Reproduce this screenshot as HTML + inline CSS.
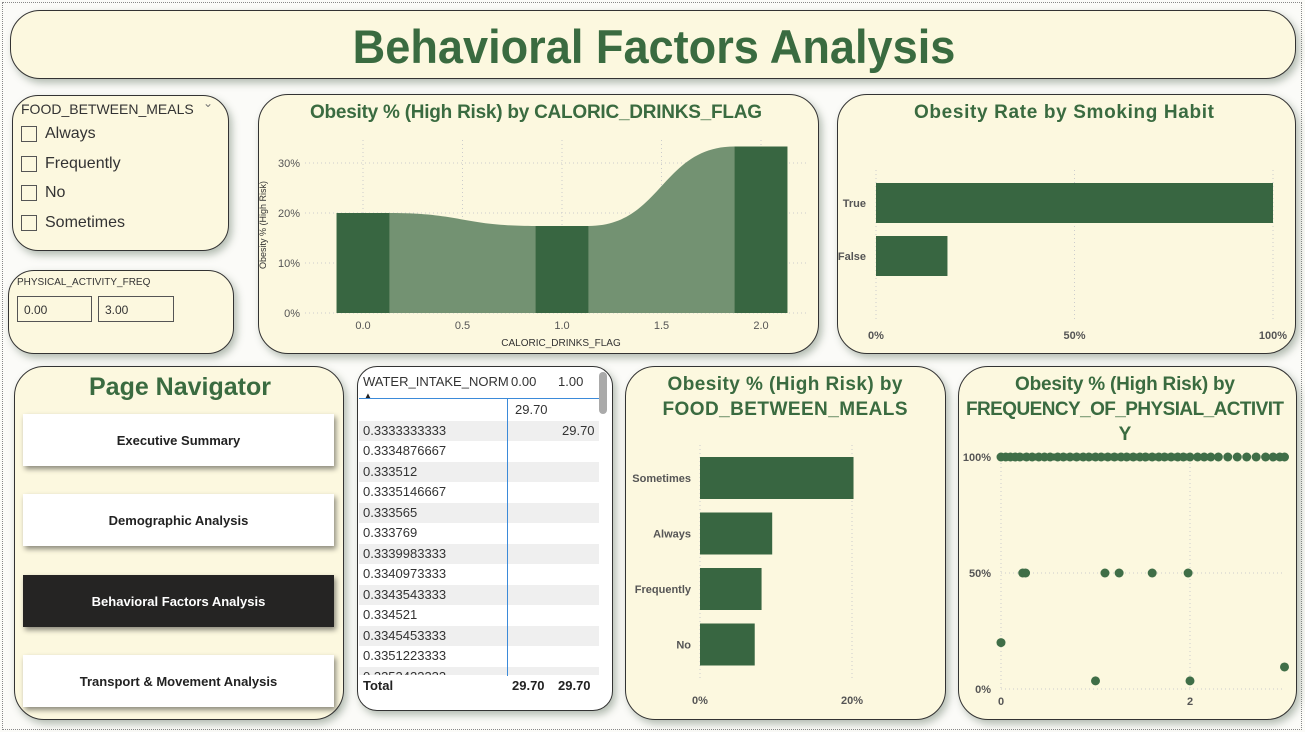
<!DOCTYPE html>
<html><head><meta charset="utf-8">
<style>
*{box-sizing:border-box;margin:0;padding:0}
body{width:1305px;height:732px;background:#fbfbf8;font-family:"Liberation Sans",sans-serif;position:relative;overflow:hidden}
.frame{position:absolute;left:2px;top:2px;width:1300px;height:728px;border:1px dotted #888}
.card{position:absolute;background:#fcf8df;border:1px solid #333;border-radius:30px;box-shadow:3px 4px 8px rgba(90,110,90,.45)}
.t{position:absolute;color:#3a6b40;font-weight:bold;white-space:nowrap}
.nav{position:absolute;left:23px;width:311px;height:52px;background:#fff;box-shadow:2px 3px 5px rgba(0,0,0,.45);font-size:13px;font-weight:bold;display:flex;align-items:center;justify-content:center;color:#222}
.cb{position:absolute;left:20px;width:16px;height:16px;border:1px solid #555}
.lbl{position:absolute;left:44px;font-size:16px;color:#333}
svg text{font-family:"Liberation Sans",sans-serif}
</style></head><body>
<div class="frame"></div>

<div class="card" style="left:10px;top:10px;width:1286px;height:69px">
<div class="t" style="left:0;width:1286px;text-align:center;top:8px;font-size:47px;transform:scaleX(.96)">Behavioral Factors Analysis</div></div>

<div class="card" style="left:12px;top:95px;width:217px;height:156px;border-radius:26px">
<div style="position:absolute;left:8px;top:5px;font-size:14px;color:#333">FOOD_BETWEEN_MEALS</div>
<div style="position:absolute;left:190px;top:0px;font-size:12px;color:#777">&#8964;</div>
<div class="cb" style="top:30px;left:8px"></div><div class="lbl" style="top:29px;left:32px">Always</div>
<div class="cb" style="top:60px;left:8px"></div><div class="lbl" style="top:59px;left:32px">Frequently</div>
<div class="cb" style="top:89px;left:8px"></div><div class="lbl" style="top:88px;left:32px">No</div>
<div class="cb" style="top:119px;left:8px"></div><div class="lbl" style="top:118px;left:32px">Sometimes</div>
</div>

<div class="card" style="left:8px;top:270px;width:226px;height:84px;border-radius:26px">
<div style="position:absolute;left:8px;top:6px;font-size:10px;color:#333">PHYSICAL_ACTIVITY_FREQ</div>
<div style="position:absolute;left:8px;top:25px;width:75px;height:26px;border:1px solid #555;font-size:12px;padding:6px;color:#333">0.00</div>
<div style="position:absolute;left:89px;top:25px;width:76px;height:26px;border:1px solid #555;font-size:12px;padding:6px;color:#333">3.00</div>
</div>

<div class="card" style="left:258px;top:94px;width:561px;height:260px"></div>
<svg style="position:absolute;left:0;top:0" width="1305" height="732" id="c1svg"></svg>

<div class="card" style="left:837px;top:94px;width:459px;height:260px"></div>
<div class="card" style="left:14px;top:366px;width:330px;height:354px">
<div class="t" style="left:0;width:330px;text-align:center;top:6px;font-size:25px">Page Navigator</div></div>
<div class="nav" style="top:414px">Executive Summary</div>
<div class="nav" style="top:494px">Demographic Analysis</div>
<div class="nav" style="top:575px;background:#252423;color:#fff">Behavioral Factors Analysis</div>
<div class="nav" style="top:655px">Transport &amp; Movement Analysis</div>

<div class="card" style="left:357px;top:366px;width:256px;height:345px;border-radius:20px;background:#fff"></div>
<div id="tbl"></div>

<div class="card" style="left:625px;top:366px;width:321px;height:354px"></div>
<div class="card" style="left:958px;top:366px;width:339px;height:354px"></div>
<svg style="position:absolute;left:0;top:0" width="1305" height="732" id="csvg"></svg>

<script>
// Chart 1 data
const c1Cats=[0.0,1.0,2.0];
const c1Vals=[20.0,17.4,33.3];
const c1XTicks=[0.0,0.5,1.0,1.5,2.0];
const c1YTicks=[0,10,20,30];
// Chart 2 data
const c2Cats=["True","False"];
const c2Vals=[100,18];
const c2XTicks=[0,50,100];
// Chart 3 data
const c3Cats=["Sometimes","Always","Frequently","No"];
const c3Vals=[20.2,9.5,8.1,7.2];
const c3XTicks=[0,20];
// Chart 4 data
const c4X=[0,0.05,0.1,0.15,0.2,0.27,0.33,0.4,0.46,0.52,0.6,0.66,0.73,0.8,0.87,0.93,1,1.06,1.13,1.2,1.27,1.33,1.4,1.47,1.53,1.6,1.67,1.73,1.8,1.87,1.93,2,2.08,2.15,2.22,2.3,2.4,2.5,2.6,2.7,2.8,2.88,2.95,3,0.23,0.26,1.1,1.25,1.6,1.98,0,1.0,2.0,3.0];
const c4Y=[100,100,100,100,100,100,100,100,100,100,100,100,100,100,100,100,100,100,100,100,100,100,100,100,100,100,100,100,100,100,100,100,100,100,100,100,100,100,100,100,100,100,100,100,50,50,50,50,50,50,20,3.5,3.5,9.5];
const c4XTicks=[0,2];
const c4YTicks=[0,50,100];
// Table
const tRows=["","0.3333333333","0.3334876667","0.333512","0.3335146667","0.333565","0.333769","0.3339983333","0.3340973333","0.3343543333","0.334521","0.3345453333","0.3351223333","0.3352423333"];
const tV0=["29.70","","","","","","","","","","","","",""];
const tV1=["","29.70","","","","","","","","","","","",""];

const NS="http://www.w3.org/2000/svg";
function mk(svg,tag,at,txt){const e=document.createElementNS(NS,tag);for(const k in at)e.setAttribute(k,at[k]);if(txt!==undefined)e.textContent=txt;svg.appendChild(e);return e;}
const DK="#386641",LT="#739272",TG="#3a6b40";

// ---- Chart 1
const s1=document.getElementById('c1svg');
const x1=v=>363+v*199, y1=v=>313-v*5;
let e;
e=mk(s1,'text',{x:536,y:118,'text-anchor':'middle','font-size':19,'font-weight':'bold',fill:TG,textLength:452},'Obesity % (High Risk) by CALORIC_DRINKS_FLAG');

c1YTicks.forEach(t=>{mk(s1,'line',{x1:305,x2:808,y1:y1(t),y2:y1(t),stroke:'#ccc','stroke-dasharray':'1 3'});
 e=mk(s1,'text',{x:300,y:y1(t)+4,'text-anchor':'end','font-size':11,fill:'#555'},t+'%');});
c1XTicks.forEach(t=>{mk(s1,'line',{x1:x1(t),x2:x1(t),y1:140,y2:313,stroke:'#ccc','stroke-dasharray':'1 3'});
 e=mk(s1,'text',{x:x1(t),y:329,'text-anchor':'middle','font-size':11,fill:'#555'},t.toFixed(1));});
const bw=0.133;
for(let i=0;i<c1Cats.length-1;i++){
 const xa=x1(c1Cats[i]+bw),xb=x1(c1Cats[i+1]-bw),ya=y1(c1Vals[i]),yb=y1(c1Vals[i+1]),m=(xa+xb)/2;
 e=mk(s1,'path',{d:`M${xa},${y1(0)} L${xa},${ya} C${m},${ya} ${m},${yb} ${xb},${yb} L${xb},${y1(0)} Z`,fill:LT});
 
}
c1Cats.forEach((c,i)=>{e=mk(s1,'rect',{x:x1(c-bw),y:y1(c1Vals[i]),width:x1(c+bw)-x1(c-bw),height:y1(0)-y1(c1Vals[i]),fill:DK});
 });
e=mk(s1,'text',{x:561,y:346,'text-anchor':'middle','font-size':10,fill:'#333'},'CALORIC_DRINKS_FLAG');
e=mk(s1,'text',{x:0,y:0,'text-anchor':'middle','font-size':9,fill:'#333',transform:'translate(266,225) rotate(-90)'},'Obesity % (High Risk)');

// ---- Chart 2
const s=document.getElementById('csvg');
const x2=v=>876+v*3.97;
e=mk(s,'text',{x:1064,y:118,'text-anchor':'middle','font-size':19,'font-weight':'bold',fill:TG,textLength:300},'Obesity Rate by Smoking Habit');
c2XTicks.forEach(t=>{mk(s,'line',{x1:x2(t),x2:x2(t),y1:170,y2:320,stroke:'#ccc','stroke-dasharray':'1 3'});
 e=mk(s,'text',{x:x2(t),y:339,'text-anchor':'middle','font-size':11,'font-weight':'bold',fill:'#555'},t+'%');});
c2Cats.forEach((c,i)=>{const yy=183+i*53;
 e=mk(s,'rect',{x:x2(0),y:yy,width:x2(c2Vals[i])-x2(0),height:40,fill:DK});
 e=mk(s,'text',{x:866,y:yy+24,'text-anchor':'end','font-size':11,'font-weight':'bold',fill:'#555'},c);});

// ---- Chart 3
const x3=v=>700+v*7.6;
e=mk(s,'text',{x:785,y:390,'text-anchor':'middle','font-size':19,'font-weight':'bold',fill:TG,textLength:235},'Obesity % (High Risk) by');
e=mk(s,'text',{x:785,y:415,'text-anchor':'middle','font-size':19,'font-weight':'bold',fill:TG,textLength:245},'FOOD_BETWEEN_MEALS');
c3XTicks.forEach(t=>{mk(s,'line',{x1:x3(t),x2:x3(t),y1:445,y2:680,stroke:'#ccc','stroke-dasharray':'1 3'});
 e=mk(s,'text',{x:x3(t),y:704,'text-anchor':'middle','font-size':11,'font-weight':'bold',fill:'#555'},t+'%');});
c3Cats.forEach((c,i)=>{const yy=457+i*55.5;
 e=mk(s,'rect',{x:x3(0),y:yy,width:x3(c3Vals[i])-x3(0),height:42,fill:DK});
 e=mk(s,'text',{x:691,y:yy+25,'text-anchor':'end','font-size':11,'font-weight':'bold',fill:'#555'},c);});

// ---- Chart 4
const x4=v=>1001+v*94.5, y4=v=>689-v*2.32;
[['Obesity % (High Risk) by',390,220],['FREQUENCY_OF_PHYSIAL_ACTIVIT',415,318],['Y',440,12]].forEach((l,i)=>{
 e=mk(s,'text',{x:1125,y:l[1],'text-anchor':'middle','font-size':19,'font-weight':'bold',fill:TG,textLength:l[2]},l[0]);});
c4YTicks.forEach(t=>{mk(s,'line',{x1:1001,x2:1285,y1:y4(t),y2:y4(t),stroke:'#ccc','stroke-dasharray':'1 3'});
 e=mk(s,'text',{x:991,y:y4(t)+4,'text-anchor':'end','font-size':11,'font-weight':'bold',fill:'#555'},t+'%');});
c4XTicks.forEach(t=>{mk(s,'line',{x1:x4(t),x2:x4(t),y1:455,y2:689,stroke:'#ccc','stroke-dasharray':'1 3'});
 e=mk(s,'text',{x:x4(t),y:705,'text-anchor':'middle','font-size':11,'font-weight':'bold',fill:'#555'},t);});
mk(s,'rect',{x:x4(0),y:y4(100)-3.5,width:x4(2)-x4(0),height:7,fill:DK});
c4X.forEach((v,i)=>{e=mk(s,'circle',{cx:x4(v),cy:y4(c4Y[i]),r:4.5,fill:'#3f6e47'});});

// ---- Table
const tb=document.getElementById('tbl');
function div(st,txt){const d=document.createElement('div');d.style.cssText=st;if(txt!==undefined)d.textContent=txt;tb.appendChild(d);return d;}
let d=div('position:absolute;left:363px;top:374px;font-size:13px;color:#333','WATER_INTAKE_NORM');
d=div('position:absolute;left:511px;top:374px;font-size:13px;color:#333','0.00');
d=div('position:absolute;left:558px;top:374px;font-size:13px;color:#333','1.00');
d=div('position:absolute;left:364px;top:391px;font-size:8px;color:#222','▲');
tRows.forEach((r,i)=>{const top=400+i*20.5;const h=i==13?8:20;
 d=div(`position:absolute;left:359px;top:${top}px;width:240px;height:${h}px;overflow:hidden;background:${i%2?'#efefef':'#fff'};font-size:13px;color:#333;line-height:20px;padding-left:4px`,r);
 
 if(tV0[i]){d=div(`position:absolute;left:515px;top:${top}px;font-size:13px;color:#333;line-height:20px`,tV0[i]);}
 if(tV1[i]){d=div(`position:absolute;left:562px;top:${top}px;font-size:13px;color:#333;line-height:20px`,tV1[i]);}
});
div('position:absolute;left:359px;top:398px;width:240px;height:1px;background:#3b8ad9');
div('position:absolute;left:507px;top:399px;width:1px;height:296px;background:#3b8ad9');
d=div('position:absolute;left:359px;top:676px;width:240px;height:20px;background:#fff;font-size:13px;font-weight:bold;color:#222;line-height:20px;padding-left:4px','Total');
d=div('position:absolute;left:512px;top:676px;font-size:13px;font-weight:bold;color:#222;line-height:20px','29.70');
d=div('position:absolute;left:558px;top:676px;font-size:13px;font-weight:bold;color:#222;line-height:20px','29.70');
d=div('position:absolute;left:599px;top:372px;width:8px;height:42px;background:#aaa;border-radius:4px');
</script>
</body></html>
